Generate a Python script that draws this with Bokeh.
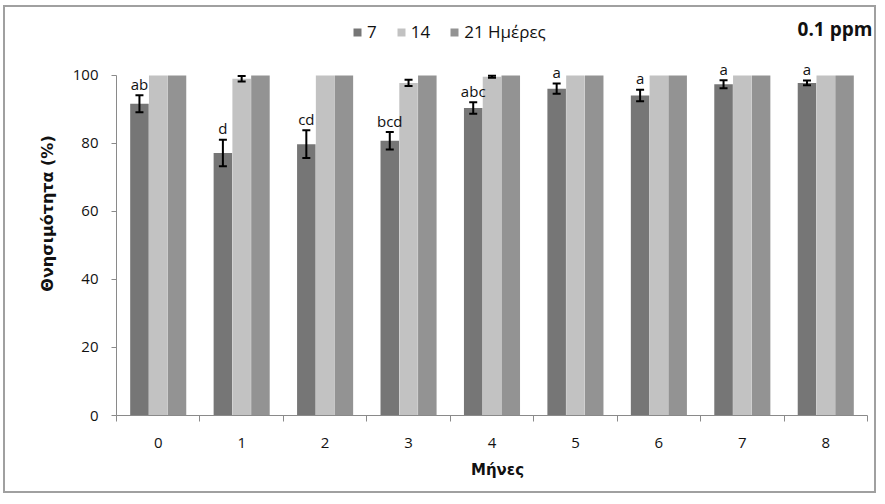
from bokeh.plotting import figure
from bokeh.models import (ColumnDataSource, Whisker, TeeHead, Legend, LegendItem,
                          FixedTicker, Label, Range1d)
from bokeh.core.properties import value
from bokeh.embed import file_html
from bokeh.resources import INLINE

months = ["0", "1", "2", "3", "4", "5", "6", "7", "8"]
series_names = ["7", "14", "21 Ημέρες"]
d7 = [91.7, 77.2, 79.8, 80.8, 90.4, 96.1, 94.1, 97.4, 97.8]
d7_err = [2.5, 3.9, 4.1, 2.6, 1.7, 1.5, 1.7, 1.2, 0.7]
d14 = [100, 99.0, 100, 97.8, 99.6, 100, 100, 100, 100]
d14_err = [0, 0.8, 0, 0.9, 0.3, 0, 0, 0, 0]
d21 = [100, 100, 100, 100, 100, 100, 100, 100, 100]
letters = ["ab", "d", "cd", "bcd", "abc", "a", "a", "a", "a"]
title_text = "0.1 ppm"

FONT = "Open Sans"
BFONT = "DejaVu Sans"
C7, C14, C21 = "#767676", "#c2c2c2", "#939393"
AXC = "#8a8a8a"
TXT = "#111111"
OFF = 0.225
BW = 0.222

xs = list(range(len(months)))
src = ColumnDataSource(dict(
    x7=[i - OFF for i in xs], x14=xs, x21=[i + OFF for i in xs],
    d7=d7, d14=d14, d21=d21,
    up7=[v + e for v, e in zip(d7, d7_err)], lo7=[v - e for v, e in zip(d7, d7_err)],
    ly=[v + e + 0.4 for v, e in zip(d7, d7_err)], lab=letters,
))
e14 = [i for i in xs if d14_err[i] > 0]
src14 = ColumnDataSource(dict(
    x=[xs[i] for i in e14],
    up=[d14[i] + d14_err[i] for i in e14],
    lo=[d14[i] - d14_err[i] for i in e14],
))

p = figure(width=873, height=488, x_range=Range1d(-0.5, len(months) - 0.5 + 0.132),
           y_range=Range1d(0, 118.8), output_backend="svg", toolbar_location=None,
           min_border_left=111, min_border_right=0, min_border_top=4, min_border_bottom=80,
           styles={"border": "2px solid #a0a0a0", "margin-left": "3px", "margin-top": "5px"})
p.outline_line_color = None
p.xgrid.visible = False
p.ygrid.visible = False
p.background_fill_color = "white"
p.border_fill_color = "white"

r7 = p.vbar(x="x7", top="d7", width=BW, source=src, fill_color=C7, line_color=None)
r14 = p.vbar(x="x14", top="d14", width=BW, source=src, fill_color=C14, line_color=None)
r21 = p.vbar(x="x21", top="d21", width=BW, source=src, fill_color=C21, line_color=None)

for s, b, u, l in [(src, "x7", "up7", "lo7"), (src14, "x", "up", "lo")]:
    p.add_layout(Whisker(base=b, upper=u, lower=l, source=s, level="overlay",
                         line_width=2, line_color="black",
                         upper_head=TeeHead(size=8, line_width=2, line_color="black"),
                         lower_head=TeeHead(size=8, line_width=2, line_color="black")))

p.text(x="x7", y="ly", text="lab", source=src, text_align="center", text_baseline="bottom",
       text_font=value(FONT), text_font_size="15px", text_color=TXT)

# axes
xa = p.xaxis[0]
xa.ticker = FixedTicker(ticks=xs, minor_ticks=[i - 0.5 for i in range(len(months) + 1)])
xa.bounds = (-0.5, len(months) - 0.5)
xa.major_label_overrides = {i: m for i, m in enumerate(months)}
xa.major_tick_out = 0
xa.major_tick_in = 0
xa.minor_tick_out = 6
xa.minor_tick_in = 0
xa.minor_tick_line_color = AXC
xa.axis_line_color = AXC
xa.major_label_standoff = 16
xa.major_label_text_font = FONT
xa.major_label_text_font_size = "15px"
xa.major_label_text_color = TXT
xa.axis_label = "Μήνες"
xa.axis_label_text_font = BFONT
xa.axis_label_text_font_style = "bold"
xa.axis_label_text_font_size = "15px"
xa.axis_label_text_color = TXT
xa.axis_label_standoff = 10

ya = p.yaxis[0]
ya.ticker = FixedTicker(ticks=[0, 20, 40, 60, 80, 100], minor_ticks=[])
ya.bounds = (0, 100)
ya.major_tick_out = 5
ya.major_tick_in = 0
ya.minor_tick_out = 0
ya.major_tick_line_color = AXC
ya.axis_line_color = AXC
ya.major_label_standoff = 13
ya.major_label_text_font = FONT
ya.major_label_text_font_size = "15px"
ya.major_label_text_color = TXT
ya.axis_label = "Θνησιμότητα (%)"
ya.axis_label_text_font = BFONT
ya.axis_label_text_font_style = "bold"
ya.axis_label_text_font_size = "16px"
ya.axis_label_text_color = TXT
ya.axis_label_standoff = 13

legend = Legend(items=[LegendItem(label=series_names[0], renderers=[r7]),
                       LegendItem(label=series_names[1], renderers=[r14]),
                       LegendItem(label=series_names[2], renderers=[r21])],
                orientation="horizontal", location=(236, 372))
legend.border_line_color = None
legend.background_fill_alpha = 0
legend.padding = 0
legend.margin = 0
legend.spacing = 19
legend.label_standoff = 5
legend.label_width = 0
legend.glyph_width = 10
legend.glyph_height = 10
legend.label_text_font = FONT
legend.label_text_font_size = "17px"
legend.label_text_color = TXT
p.add_layout(legend)

p.add_layout(Label(x=8.11, y=113.8, text=title_text, text_align="center", text_baseline="middle",
                   text_font=FONT, text_font_size="19px", text_font_style="bold",
                   text_color=TXT))

open("out.html", "w").write(file_html(p, INLINE))
